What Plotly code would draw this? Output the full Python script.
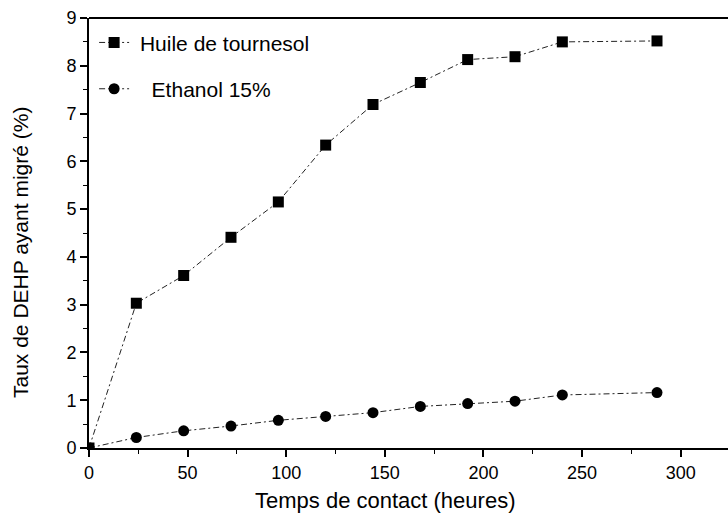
import plotly.graph_objects as go

hours = [0, 24, 48, 72, 96, 120, 144, 168, 192, 216, 240, 288]
huile = [0, 3.03, 3.61, 4.41, 5.15, 6.34, 7.19, 7.65, 8.13, 8.19, 8.5, 8.52]
ethanol = [0, 0.22, 0.36, 0.46, 0.58, 0.66, 0.74, 0.87, 0.93, 0.98, 1.11, 1.16]

x_ticks = [0, 50, 100, 150, 200, 250, 300]
y_ticks = [0, 1, 2, 3, 4, 5, 6, 7, 8, 9]

FONT = "Liberation Sans, Arial, sans-serif"

fig = go.Figure()
fig.add_trace(go.Scatter(
    x=hours, y=huile, name=" Huile de tournesol", mode="lines+markers",
    legendgroup="a",
    line=dict(color="#222", width=1, dash="6px,3px,2px,3px"),
    marker=dict(symbol="square", size=11, color="black"),
))
fig.add_trace(go.Scatter(
    x=hours, y=ethanol, name="   Ethanol 15%", mode="lines+markers",
    legendgroup="b",
    line=dict(color="#222", width=1, dash="6px,3px,2px,3px"),
    marker=dict(symbol="circle", size=11, color="black"),
))

axis_common = dict(
    showgrid=False, zeroline=False, showline=True, linecolor="black", linewidth=2,
    ticks="outside", ticklen=7, tickwidth=1.5, tickcolor="black",
    tickfont=dict(family=FONT, size=18, color="black"),
)

fig.update_layout(
    width=728, height=515,
    margin=dict(l=89, r=0, t=18, b=67),
    paper_bgcolor="white", plot_bgcolor="white",
    font=dict(family=FONT, color="black"),
    xaxis=dict(range=[0, 324], tickvals=x_ticks,
               minor=dict(tickvals=[25, 75, 125, 175, 225, 275, 325], ticks="outside",
                          ticklen=4, tickwidth=1, tickcolor="black"),
               **axis_common),
    yaxis=dict(range=[0, 9], tickvals=y_ticks,
               minor=dict(tickvals=[0.5, 1.5, 2.5, 3.5, 4.5, 5.5, 6.5, 7.5, 8.5], ticks="outside",
                          ticklen=4, tickwidth=1, tickcolor="black"),
               **axis_common),
    showlegend=True,
    legend=dict(x=0.008, y=0.99, xanchor="left", yanchor="top", bgcolor="rgba(0,0,0,0)",
                font=dict(family=FONT, size=21, color="black"), tracegroupgap=16),
    shapes=[dict(type="line", xref="paper", yref="paper", x0=0, x1=1, y0=1, y1=1,
                 line=dict(color="black", width=2))],
    annotations=[
        dict(text="Temps de contact (heures)", xref="paper", yref="paper",
             x=(385 - 89) / 639, y=-(501 - 448) / 430, xanchor="center", yanchor="middle",
             showarrow=False, font=dict(family=FONT, size=22, color="black")),
        dict(text="Taux de DEHP ayant migré (%)", xref="paper", yref="paper",
             x=-(89 - 20) / 639, y=(448 - 253) / 430, xanchor="center", yanchor="middle",
             textangle=-90, showarrow=False, font=dict(family=FONT, size=21, color="black")),
    ],
)

fig.write_html("out.html")
